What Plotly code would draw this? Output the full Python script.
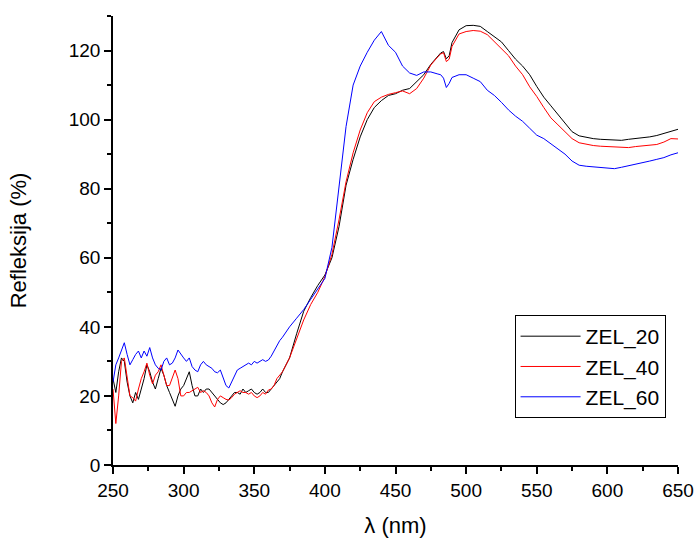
import plotly.graph_objects as go

# Wavelength grid (nm)
wl = ([250, 252, 254, 256, 258, 260, 262, 264, 266, 268, 270, 272, 274, 276, 278, 280,
       282, 284, 286, 288, 290, 292, 294, 296, 298, 300, 302, 304, 306, 308, 310, 312,
       314, 316, 318, 320, 322, 324, 326, 328, 330, 332, 334, 336, 338, 340, 342, 344,
       346, 348, 350, 352, 354, 356, 358, 360, 362, 364, 366, 368, 370,
       375, 380, 385, 390, 395, 400, 405, 410, 415, 420, 425, 430, 435, 440, 445, 450,
       455, 460, 465, 470, 475, 480, 482, 484, 486, 488, 490, 495, 500, 505, 510, 515,
       520, 525, 530, 535, 540, 545, 550, 555, 560, 565, 570, 575, 580, 585, 590, 595,
       600, 605, 610, 615, 620, 625, 630, 635, 640, 645, 650])

zel_20 = [25, 21, 27, 31, 30, 24, 20, 18, 21, 19, 22, 25, 29, 27, 24, 22,
          25, 28, 26, 23, 21, 19, 17, 20, 22, 23, 25, 27, 23, 20, 20, 22,
          21, 22, 22, 21, 20, 19, 18, 17.5, 18, 19, 20, 21, 21, 20.5, 22, 21,
          21.5, 22, 21, 20.5, 21, 22, 21, 21, 22, 23, 24, 25, 27,
          31, 38, 44.5, 48.5, 52, 55, 60, 69, 81, 88.5, 95, 100, 103.5, 105.5, 107, 107.5,
          108.5, 109, 111, 113, 116, 118.5, 119.3, 119.7, 117.6, 118.5, 122.3, 126, 127.2, 127.3, 127, 125.5,
          124, 122.5, 120, 117.5, 115.5, 113, 109.6, 106.5, 104, 101.5, 99, 96.5, 95.3, 94.8, 94.5, 94.3,
          94.2, 94, 94, 94.3, 94.5, 94.8, 95, 95.4, 96, 96.8, 97.2]

zel_40 = [22, 12, 20, 30, 31, 25, 20, 19.5, 18.5, 22, 25, 27, 29.5, 26, 23.5, 26,
          27, 29, 26, 23, 23, 25, 27.5, 25, 20, 20, 21, 21, 21.5, 22, 22.5, 21,
          21.5, 21, 20, 18, 16.8, 19, 20, 19.5, 19, 18.8, 19.5, 20.5, 21, 21.5, 21, 21,
          20.5, 21, 20, 19.5, 20, 21, 20.5, 21.7, 22, 23, 25, 26, 27,
          31, 36.5, 42, 46.5, 50, 54.5, 61, 71, 82, 90.4, 97, 102, 105.2, 106.5, 107.3, 107.8,
          108.3, 107.5, 109, 112, 115.8, 118.2, 119, 119.4, 116.8, 117.5, 121.2, 124.8, 125.5, 125.8, 125.6, 124.6,
          122.5, 120.6, 118.5, 115.5, 113, 109.5, 106.7, 103.5, 100.5, 98.5, 96.5, 94.5, 93.3, 92.8, 92.5, 92.3,
          92.2, 92, 91.9, 91.9, 92.2, 92.4, 92.6, 92.8, 93.5, 94.5, 94.4]

zel_60 = [24, 29, 31, 33, 35.4, 32, 29, 30.5, 32, 33, 31, 33, 31.5, 34, 31, 29,
          28, 27.5, 30, 31, 29, 29.5, 31, 33.3, 32, 31, 30, 31, 28.5, 27.5, 27, 29,
          30, 29, 28.5, 28, 27, 26.7, 27.5, 25, 23, 22.3, 24, 26, 27.5, 28, 28.5, 29,
          29.5, 29, 30, 29.5, 30, 30.5, 30, 30.4, 31.5, 33, 34.5, 36, 37,
          40, 42.5, 45, 48, 51, 54, 63, 80, 98, 110, 115.5, 119.5, 123, 125.5, 121.5, 119.5,
          115.5, 113.5, 112.8, 113.8, 113.8, 113.2, 113, 112, 109.3, 110.5, 112.2, 113, 113, 112, 111, 108.5,
          107, 105, 102.8, 101, 99.5, 97.5, 95.5, 94.5, 93, 91.5, 90, 88, 86.8, 86.5, 86.3, 86,
          86, 85.8, 86.2, 86.6, 87, 87.5, 88, 88.5, 89, 89.8, 90.4]

series_names = ["ZEL_20", "ZEL_40", "ZEL_60"]
series_colors = ["#000000", "#ff0000", "#0000ff"]

x_ticks = [250, 300, 350, 400, 450, 500, 550, 600, 650]
y_ticks = [0, 20, 40, 60, 80, 100, 120]

FONT = "Liberation Sans, Arial, sans-serif"

fig = go.Figure()
for name, vals, col in zip(series_names, [zel_20, zel_40, zel_60], series_colors):
    fig.add_trace(go.Scatter(x=wl, y=vals, mode="lines", name=name,
                             line=dict(color=col, width=1)))

axis_common = dict(
    showline=True, linecolor="black", linewidth=1.5, mirror=False,
    ticks="outside", ticklen=7, tickwidth=1.5, tickcolor="black",
    showgrid=False, zeroline=False, automargin=False,
    tickfont=dict(family=FONT, size=19, color="black"),
)

fig.update_xaxes(range=[250, 650], tickvals=x_ticks,
                 minor=dict(ticks="outside", ticklen=4, tickwidth=1.5, tickcolor="black", dtick=25, tick0=250),
                 title=dict(text="λ (nm)", font=dict(family=FONT, size=22, color="black"),
                            standoff=18),
                 **axis_common)
fig.update_yaxes(range=[0, 130], tickvals=y_ticks,
                 minor=dict(ticks="outside", ticklen=4, tickwidth=1.5, tickcolor="black", dtick=10, tick0=0),
                 title=dict(text="Refleksija (%)", font=dict(family=FONT, size=22, color="black"),
                            standoff=36),
                 **axis_common)

fig.update_layout(
    width=696, height=541,
    margin=dict(l=113, r=18, t=16, b=76),
    plot_bgcolor="white", paper_bgcolor="white",
    font=dict(family=FONT, color="black"),
    legend=dict(x=0.978, y=0.334, xanchor="right", yanchor="top",
                bordercolor="black", borderwidth=1, bgcolor="white",
                itemwidth=60,
                font=dict(size=21, color="black"), tracegroupgap=0),
    showlegend=True,
)

fig.write_html("out.html", config={"displayModeBar": False},
               post_script="document.body.style.margin='0';document.body.style.padding='0';")
